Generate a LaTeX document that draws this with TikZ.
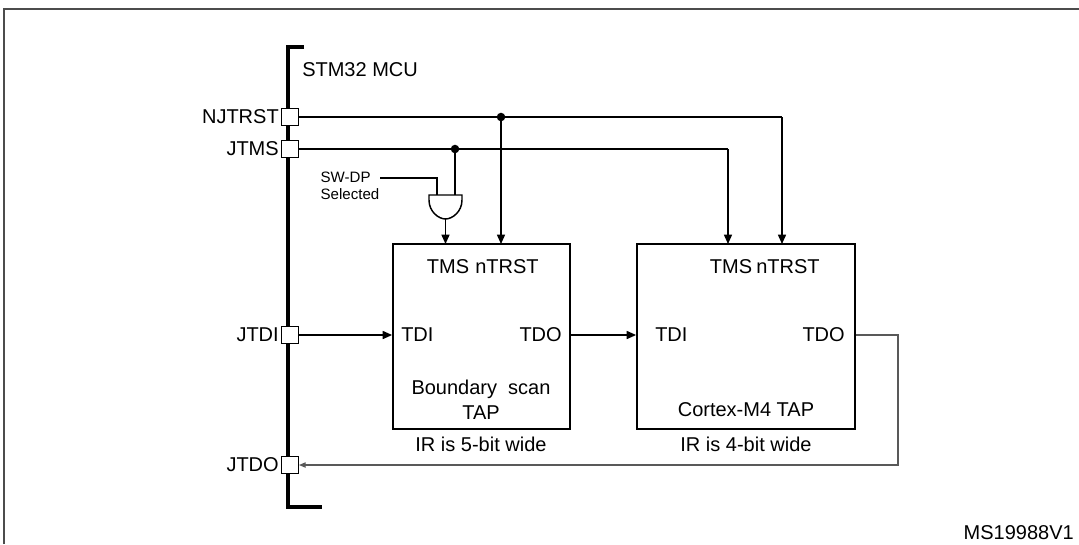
\documentclass[tikz,border=0pt]{standalone}
\usepackage{fontspec}
\setmainfont{Liberation Sans}
\usetikzlibrary{arrows.meta}
\begin{document}
\begin{tikzpicture}[x=0.75pt,y=-0.75pt,
  wire/.style={line width=1.1pt},
  arr/.style={wire,-{Triangle[length=7pt,width=6pt]}},
  pin/.style={draw,line width=1pt,fill=white,minimum size=12.5pt,inner sep=0pt},
  lbl/.style={font=\fontsize{15}{17}\selectfont,inner sep=0pt},
  small/.style={font=\fontsize{11.3}{13}\selectfont,inner sep=0pt,align=left},
  box/.style={draw,line width=1.4pt}]
\useasboundingbox (0,0) rectangle (1079,544);
\draw[line width=2pt,gray!60!black] (4,544) -- (4,9) -- (1079,9);
% bus
\draw[line width=3pt] (304,47) -- (288,47) -- (288,507) -- (322,507);
\node[lbl,anchor=west] (mcu) at (302,70) {STM32 MCU};
% pins
\node[pin] (pnj) at (290,117) {};
\node[pin] (pms) at (290,149) {};
\node[pin] (pdi) at (290,335) {};
\node[pin] (pdo) at (290,465) {};
\node[lbl,anchor=east] at (279,117) {NJTRST};
\node[lbl,anchor=east] at (279,149) {JTMS};
\node[lbl,anchor=east] at (279,335) {JTDI};
\node[lbl,anchor=east] at (279,465) {JTDO};
% boxes
\node[box,minimum width=177*0.75pt,minimum height=185*0.75pt] (b1) at (481.5,336.5) {};
\node[box,minimum width=218*0.75pt,minimum height=185*0.75pt] (b2) at (746,336.5) {};
\node[lbl] at (448,267) {TMS};
\node[lbl] at (507,267) {nTRST};
\node[lbl] at (731,267) {TMS};
\node[lbl] at (788,267) {nTRST};
\node[lbl,anchor=west] at (401,335) {TDI};
\node[lbl,anchor=east] at (562,335) {TDO};
\node[lbl,anchor=west] at (655,335) {TDI};
\node[lbl,anchor=east] at (845,335) {TDO};
\node[lbl,align=center] at (481,400) {Boundary\ \ scan\\[2pt]TAP};
\node[lbl] at (746,410) {Cortex-M4 TAP};
\node[lbl] at (481,444) {IR is 5-bit wide};
\node[lbl] at (746,444) {IR is 4-bit wide};
\node[lbl,anchor=east] at (1074,533) {MS19988V1};
% junctions
\coordinate (j1) at (501,117);
\coordinate (j2) at (455,149);
\fill (j1) circle (3.2pt);
\fill (j2) circle (3.2pt);
% gate
\draw[line width=1.1pt] (429,195) -- (462,195) -- (462,200) .. controls (462,212) and (452,219) .. (445.5,219) .. controls (439,219) and (429,212) .. (429,200) -- cycle;
\coordinate (gout) at (445.5,219);
\node[small] (sw) at (350,186) {SW-DP\\Selected};
% wires
\draw[wire] (pnj.east) -- (782,117) coordinate (c1);
\draw[arr] (c1) -- (782,244);
\draw[arr] (j1) -- (501,244);
\draw[wire] (pms.east) -- (728,149) coordinate (c2);
\draw[arr] (c2) -- (728,244);
\draw[wire] (j2) -- (455,195);
\draw[wire] (380,178) -- (437,178) -- (437,195);
\draw[arr] (gout) -- (445.5,244);
\draw[arr] (pdi.east) -- (b1.west |- pdi);
\draw[arr] (b1.east |- 0,335) -- (b2.west |- 0,335);
\draw[line width=0.8pt,gray!70!black,-{Triangle[length=5pt,width=4pt]}] (b2.east |- 0,335) -- (898,335) -- (898,465) -- (pdo.east);
\end{tikzpicture}
\end{document}
